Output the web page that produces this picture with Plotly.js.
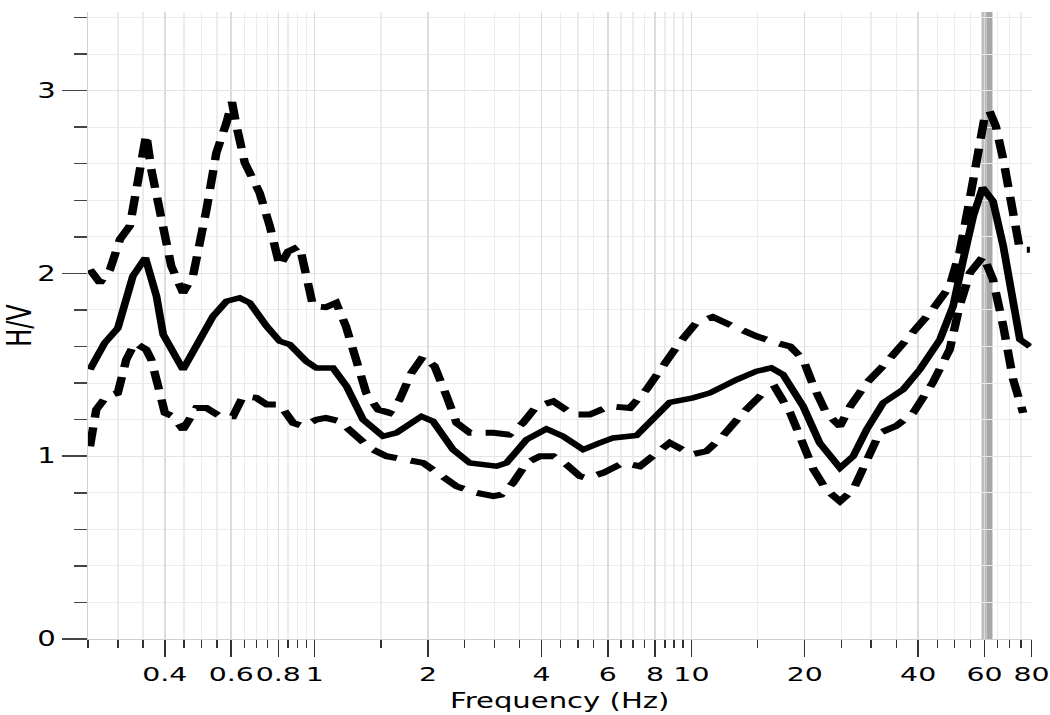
<!DOCTYPE html>
<html>
<head>
<meta charset="utf-8">
<script src="https://cdn.plot.ly/plotly-3.0.1.min.js"></script>
<style>
  html, body { margin: 0; padding: 0; background: #fff; overflow: hidden; }
  #wrap { width: 1050px; height: 715px; overflow: hidden; }
  #chart { width: 740px; height: 715px; transform: scaleX(1.418919); transform-origin: 0 0; }
</style>
</head>
<body>
<div id="wrap"><div id="chart"></div></div>
<script>
// ---- data ----
const meanFreq = [0.253,0.277,0.300,0.329,0.355,0.380,0.396,0.447,0.537,0.583,0.632,0.672,0.745,0.807,0.858,0.950,1.01,1.118,1.214,1.344,1.518,1.648,1.92,2.06,2.33,2.58,3.04,3.23,3.65,4.12,4.56,5.16,5.71,6.2,7.15,7.75,8.76,10.1,11.2,13.2,14.9,16.3,17.5,19.8,21.9,24.8,26.9,29.2,32.3,36.5,40.4,45.7,49.5,52.7,56.0,59.3,63.2,67.3,71.5,74.5,79.2];
const meanHV   = [1.474,1.62,1.70,1.985,2.085,1.875,1.665,1.474,1.766,1.848,1.866,1.839,1.711,1.629,1.611,1.519,1.483,1.483,1.383,1.20,1.109,1.128,1.218,1.191,1.036,0.963,0.945,0.963,1.091,1.149,1.109,1.036,1.073,1.10,1.113,1.182,1.295,1.319,1.346,1.419,1.465,1.483,1.447,1.273,1.073,0.936,1.0,1.146,1.292,1.365,1.474,1.638,1.82,2.076,2.313,2.469,2.395,2.149,1.857,1.638,1.60];

const upperFreq = [0.253,0.269,0.286,0.304,0.323,0.336,0.357,0.368,0.388,0.416,0.447,0.475,0.516,0.548,0.583,0.603,0.62,0.652,0.714,0.76,0.807,0.85,0.912,0.99,1.07,1.14,1.21,1.29,1.37,1.473,1.58,1.68,1.806,1.94,2.08,2.24,2.38,2.58,2.98,3.29,3.57,3.88,4.3,4.86,5.37,6.06,6.87,7.6,8.4,9.3,10.3,11.4,12.9,14.9,16.8,18.3,19.8,21.1,22.8,24.8,26.4,29.2,32.9,37.9,43.7,48.5,51.5,54.4,57.2,60.1,61.9,64.3,67.3,71.5,74.5,79.2];
const upperHV   = [2.021,1.949,2.02,2.186,2.26,2.46,2.76,2.57,2.35,2.04,1.894,1.985,2.35,2.66,2.824,2.937,2.806,2.605,2.441,2.258,2.04,2.12,2.149,1.82,1.815,1.839,1.711,1.529,1.346,1.255,1.237,1.31,1.456,1.547,1.492,1.328,1.182,1.128,1.128,1.118,1.182,1.273,1.30,1.228,1.228,1.273,1.264,1.365,1.492,1.62,1.73,1.762,1.711,1.656,1.62,1.60,1.529,1.383,1.237,1.164,1.273,1.401,1.511,1.656,1.802,1.93,2.113,2.368,2.623,2.86,2.888,2.806,2.623,2.295,2.13,2.13];

const lowerFreq = [0.253,0.263,0.28,0.30,0.316,0.333,0.357,0.368,0.388,0.40,0.42,0.447,0.485,0.516,0.56,0.607,0.645,0.70,0.745,0.807,0.876,0.931,1.01,1.07,1.165,1.29,1.4,1.55,1.75,1.94,2.15,2.38,2.69,2.98,3.13,3.36,3.65,3.96,4.3,4.66,5.06,5.27,5.83,6.58,7.3,8.08,8.76,10.0,10.96,12.1,13.7,15.5,16.7,18.3,19.8,21.1,22.8,24.8,26.9,29.2,31.6,34.9,38.8,43.7,48.5,51.5,54.9,59.6,63.2,67.3,71.5,76.0];
const lowerHV   = [1.054,1.255,1.328,1.346,1.529,1.62,1.583,1.529,1.346,1.237,1.218,1.146,1.264,1.264,1.218,1.218,1.328,1.319,1.283,1.283,1.182,1.164,1.20,1.21,1.191,1.109,1.045,1.0,0.981,0.963,0.899,0.835,0.799,0.781,0.79,0.854,0.963,1.0,1.0,0.954,0.89,0.881,0.909,0.963,0.945,1.018,1.073,1.009,1.027,1.109,1.237,1.346,1.374,1.237,1.073,0.927,0.817,0.753,0.817,0.981,1.128,1.164,1.237,1.401,1.583,1.82,2.003,2.094,1.967,1.711,1.419,1.237];

// peak-frequency marker band (Hz): left edge, centre split, right edge
const peakBand = [58.9, 60.85, 63.0];

// tick labels
const xTickVals = [0.4,0.6,0.8,1,2,4,6,8,10,20,40,60,80];
const xTickText = ["0.4","0.6","0.8","1","2","4","6","8","10","20","40","60","80"];
const xMinorVals = [0.25,0.3,0.35,0.45,0.5,0.55,0.65,0.7,0.75,0.85,0.9,0.95,1.5,2.5,3,3.5,4.5,5,5.5,6.5,7,7.5,8.5,9,9.5,15,25,30,35,45,50,55,65,70,75];
const yTickVals = [0,1,2,3];
const yMinorVals = [0.2,0.4,0.6,0.8,1.2,1.4,1.6,1.8,2.2,2.4,2.6,2.8,3.2,3.4];

const FONT = "DejaVu Sans, Verdana, sans-serif";

const traces = [
  { x: upperFreq, y: upperHV, mode: "lines", line: { color: "#000", width: 6, dash: "19px,10px" }, hoverinfo: "skip" },
  { x: lowerFreq, y: lowerHV, mode: "lines", line: { color: "#000", width: 6, dash: "19px,10px" }, hoverinfo: "skip" },
  { x: meanFreq,  y: meanHV,  mode: "lines", line: { color: "#000", width: 5.5 }, hoverinfo: "skip" }
];

const layout = {
  width: 740, height: 715,
  margin: { l: 62, r: 12.7, t: 12, b: 76 },
  paper_bgcolor: "#fff", plot_bgcolor: "#fff",
  showlegend: false,
  font: { family: FONT, color: "#000" },
  xaxis: {
    type: "log",
    range: [Math.log10(0.25), Math.log10(80)],
    tickmode: "array", tickvals: xTickVals, ticktext: xTickText,
    tickangle: 0,
    ticklabeloverflow: "allow",
    ticks: "outside", ticklen: 17, tickwidth: 1, tickcolor: "#333",
    tickfont: { family: FONT, size: 20, color: "#000" },
    showgrid: true, gridcolor: "#dcdcdc", gridwidth: 1,
    showline: true, linecolor: "#d0d0d0", linewidth: 1,
    minor: { tickmode: "array", tickvals: xMinorVals, ticks: "outside", ticklen: 8, tickwidth: 1, tickcolor: "#333", showgrid: true, gridcolor: "#ececec", gridwidth: 1 },
    title: { text: "Frequency (Hz)", font: { family: FONT, size: 20.5, color: "#000" }, standoff: 8 },
    fixedrange: true
  },
  yaxis: {
    range: [0, 3.43],
    tickmode: "array", tickvals: yTickVals, ticktext: ["0","1","2","3"],
    ticks: "outside", ticklen: 17.6, tickwidth: 1.5, tickcolor: "#444",
    tickfont: { family: FONT, size: 20.5, color: "#000" },
    showgrid: true, gridcolor: "#e4e4e4", gridwidth: 1,
    zeroline: false,
    showline: true, linecolor: "#d0d0d0", linewidth: 1,
    minor: { tickmode: "array", tickvals: yMinorVals, ticks: "outside", ticklen: 8.5, tickwidth: 1.5, tickcolor: "#444", showgrid: true, gridcolor: "#ececec", gridwidth: 1 },
    title: { text: "H/V", font: { family: FONT, size: 24, color: "#000" }, standoff: 4 },
    fixedrange: true
  },
  shapes: [
    { type: "rect", xref: "x", yref: "paper", x0: peakBand[0], x1: peakBand[1], y0: 0, y1: 1, fillcolor: "#bcbcbc", line: { width: 0 }, layer: "between" },
    { type: "rect", xref: "x", yref: "paper", x0: peakBand[1], x1: peakBand[2], y0: 0, y1: 1, fillcolor: "#a7a7a7", line: { width: 0 }, layer: "between" }
  ]
};

Plotly.newPlot("chart", traces, layout, { staticPlot: true, displayModeBar: false });
</script>
</body>
</html>
